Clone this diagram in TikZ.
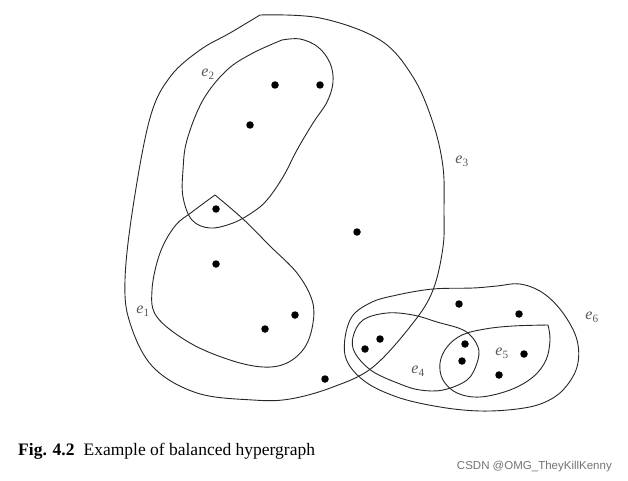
\documentclass[tikz,border=0pt]{standalone}
\usepackage{fontspec}
\setmainfont{Liberation Serif}
\newfontfamily\wmfont{Liberation Sans}
\newcommand{\elab}[1]{\textit{e}\textsubscript{#1}}
\begin{document}
\begin{tikzpicture}[x=1pt,y=-1pt,
  edge/.style={line width=0.9pt, black!85},
  vtx/.style={circle, fill=black, inner sep=0pt, minimum size=7.5pt},
  elabel/.style={text=black!65, font=\fontsize{16}{18}\selectfont},
]
\useasboundingbox (0,0) rectangle (628,481);
% e3
\draw[edge] plot[smooth, tension=0.6] coordinates {(260,15) (320,18) (380,40) (413,77) (433,123) (443,167) (444,210) (443,247) (433,290) (413,323) (373,367) (333,387) (290,399) (253,400) (197,393) (153,367) (130,323) (125,280) (133,207) (150,118) (170,77) (200,50) (230,33) (260,15)};
% e2
\draw[edge] plot[smooth, tension=0.6] coordinates {(282,40) (300,39) (318,47) (330,63) (333,82) (327,102) (313,123) (297,150) (283,177) (267,200) (253,212) (233,223) (210,228) (192,220) (183,197) (183,170) (187,140) (203,100) (227,70) (253,53) (282,40)};
% e1
\draw[edge] plot[smooth, tension=0.6] coordinates {(215,195) (243,219) (270,246) (297,273) (312,300) (313,323) (305,347) (287,363) (263,367) (230,360) (190,343) (157,317) (152,290) (160,253) (175,226) (192,212) (215,195)};
% e6
\draw[edge] plot[smooth cycle, tension=0.6] coordinates {(433,289) (473,288) (497,286) (520,284) (543,293) (563,313) (577,340) (577,367) (563,390) (543,403) (517,409) (480,411) (440,407) (397,397) (363,380) (345,355) (350,320) (370,303) (397,295)};
% e4
\draw[edge] plot[smooth cycle, tension=0.6] coordinates {(363,320) (387,313) (413,315) (437,322) (465,331) (478,347) (477,363) (467,380) (443,390) (420,390) (400,384) (372,371) (355,353) (353,337)};
% e5
\draw[edge] plot[smooth, tension=0.6] coordinates {(548,325) (550,340) (546,360) (533,377) (510,390) (480,397) (457,393) (443,380) (440,363) (447,347) (462,335) (485,329) (513,326) (548,325)};
% vertices
\node[vtx] (a1) at (275,85) {};
\node[vtx] (a2) at (320,85) {};
\node[vtx] (a3) at (250,125) {};
\node[vtx] (b1) at (216,209) {};
\node[vtx] (b2) at (216,264) {};
\node[vtx] (b3) at (295,315) {};
\node[vtx] (b4) at (265,329) {};
\node[vtx] (c1) at (357,232) {};
\node[vtx] (c2) at (325,379) {};
\node[vtx] (d1) at (380,339) {};
\node[vtx] (d2) at (365,349) {};
\node[vtx] (f1) at (459,304) {};
\node[vtx] (f2) at (519,314) {};
\node[vtx] (g1) at (465,344) {};
\node[vtx] (g2) at (462,361) {};
\node[vtx] (h1) at (524,354) {};
\node[vtx] (h2) at (499,375) {};
% labels
\node[elabel] (l1) at (143,311) {\elab{1}};
\node[elabel] (l2) at (208,74) {\elab{2}};
\node[elabel] (l3) at (462,161) {\elab{3}};
\node[elabel] (l4) at (418,371) {\elab{4}};
\node[elabel] (l5) at (502,353) {\elab{5}};
\node[elabel] (l6) at (592,317) {\elab{6}};
% caption
\node[anchor=base west, inner sep=0pt, font=\fontsize{17.5}{20}\selectfont] (cap) at (18,455) {\textbf{Fig. 4.2}\hspace{9pt}Example of balanced hypergraph};
\node[anchor=base east, inner sep=0pt, text=black!55, font=\wmfont\fontsize{11.5}{13}\selectfont] (wm) at (612,469) {CSDN @OMG\_TheyKillKenny};
\end{tikzpicture}
\end{document}
